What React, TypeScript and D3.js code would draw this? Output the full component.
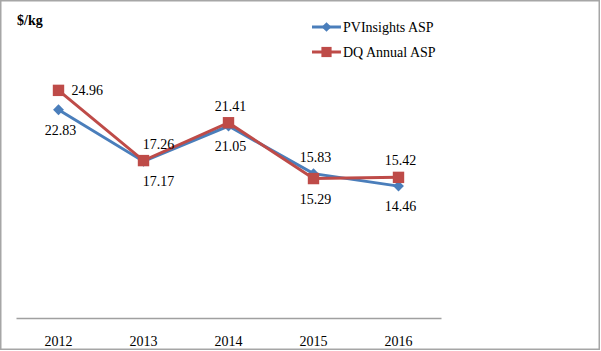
import React, { useEffect, useRef } from 'react';
import * as d3 from 'd3';

const years = ['2012', '2013', '2014', '2015', '2016'];
const pvInsights = [22.83, 17.17, 21.05, 15.83, 14.46];
const dqAnnual = [24.96, 17.26, 21.41, 15.29, 15.42];
// where each data label sits relative to its point
const pvPlace = ['below', 'below', 'below', 'above', 'below'];
const dqPlace = ['right', 'above', 'above', 'below', 'above'];
const seriesNames = ['PVInsights ASP', 'DQ Annual ASP'];

const BLUE = '#4a7ebb';
const RED = '#be4b48';
const FONT = "'Liberation Serif', 'Times New Roman', serif";

const App = () => {
  const svgRef = useRef<SVGSVGElement>(null);

  useEffect(() => {
    document.body.style.margin = '0';
    const svg = d3.select(svgRef.current);
    svg.selectAll('*').remove();

    const width = 601;
    const height = 351;

    svg.attr('viewBox', [0, 0, width, height])
      .style('font-family', FONT);

    svg.append('rect')
      .attr('x', 0.75).attr('y', 0.75)
      .attr('width', 598.5).attr('height', 348.5)
      .attr('fill', 'white')
      .attr('stroke', '#a6a6a6')
      .attr('stroke-width', 1.5);

    const x = d3.scaleBand()
      .domain(years)
      .range([16, 441]);

    const y = d3.scaleLinear()
      .domain([0, 30])
      .range([318, 44.4]);

    const cx = (d: string) => (x(d) as number) + x.bandwidth() / 2;

    // x axis
    svg.append('g')
      .attr('transform', `translate(0,${y(0)})`)
      .call(d3.axisBottom(x).tickSize(0).tickPadding(18))
      .call(g => g.attr('font-family', null))
      .call(g => g.select('.domain').attr('stroke', '#a0a0a0').attr('stroke-width', 1.5))
      .call(g => g.selectAll('.tick text')
        .style('font-family', FONT)
        .attr('font-size', 14)
        .attr('fill', '#000'));

    svg.append('text')
      .attr('x', 17).attr('y', 25)
      .style('font-family', FONT)
      .attr('font-size', 14)
      .attr('font-weight', 'bold')
      .text('$/kg');

    const line = d3.line<number>()
      .x((_, i) => cx(years[i]))
      .y(d => y(d));

    const series = [
      { values: pvInsights, place: pvPlace, color: BLUE, symbol: d3.symbolDiamond2, size: 75 },
      { values: dqAnnual, place: dqPlace, color: RED, symbol: d3.symbolSquare, size: 130 },
    ];

    series.forEach(s => {
      svg.append('path')
        .datum(s.values)
        .attr('fill', 'none')
        .attr('stroke', s.color)
        .attr('stroke-width', 3)
        .attr('d', line);

      svg.append('g')
        .selectAll('path')
        .data(s.values)
        .join('path')
        .attr('transform', (d, i) => `translate(${cx(years[i])},${y(d)})`)
        .attr('d', d3.symbol().type(s.symbol).size(s.size)())
        .attr('fill', s.color);
    });

    series.forEach(s => {
      svg.append('g')
        .selectAll('text')
        .data(s.values)
        .join('text')
        .attr('x', (d, i) => s.place[i] === 'right' ? cx(years[i]) + 13 : cx(years[i]) + (i === 1 ? 15 : 2))
        .attr('y', (d, i) => s.place[i] === 'right' ? y(d) + 5 : s.place[i] === 'above' ? y(d) - 12 : y(d) + 25)
        .attr('text-anchor', (d, i) => s.place[i] === 'right' ? 'start' : 'middle')
        .style('font-family', FONT)
        .attr('font-size', 14)
        .attr('fill', '#000')
        .text(d => d.toFixed(2));
    });

    // legend
    const legend = svg.append('g');
    series.forEach((s, i) => {
      const ly = 27 + i * 25;
      legend.append('line')
        .attr('x1', 312).attr('x2', 341)
        .attr('y1', ly).attr('y2', ly)
        .attr('stroke', s.color)
        .attr('stroke-width', 3);
      legend.append('path')
        .attr('transform', `translate(326.5,${ly})`)
        .attr('d', d3.symbol().type(s.symbol).size(s.size * 0.8)())
        .attr('fill', s.color);
      legend.append('text')
        .attr('x', 343).attr('y', ly + 5)
        .style('font-family', FONT)
        .attr('font-size', 14)
        .text(seriesNames[i]);
    });
  }, []);

  return <svg ref={svgRef} width={601} height={351} style={{ display: 'block' }}></svg>;
};

export default App;
